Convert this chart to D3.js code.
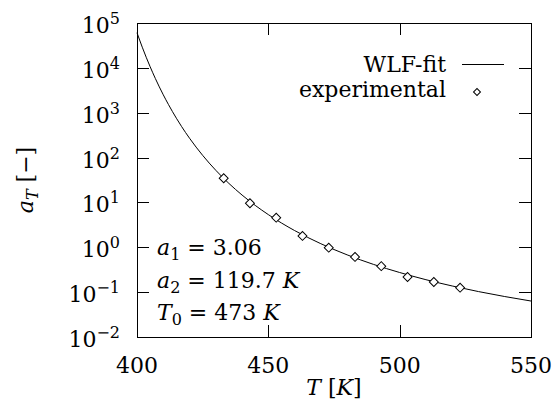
<!DOCTYPE html>
<html><head><meta charset="utf-8">
<script src="https://cdn.jsdelivr.net/npm/d3@7"></script>
<style>body{margin:0;background:#fff}</style>
</head><body><svg id="c" width="552" height="406" font-family="'DejaVu Serif', serif"></svg>
<script>
// WLF-fit curve
const curveT  = [400,402,405,407,410,412,415,417,420,425,430,435,440,445,450,455,460,470,480,490,500,510,520,530,540,550];
const curveAT = [60700,28900,10600,5770,2510,1514,753,490,270,112,52.0,26.5,14.6,8.6,5.35,3.48,2.36,1.20,0.678,0.416,0.274,0.1895,0.1372,0.1030,0.0798,0.0634];
// experimental points
const expT  = [433,443,453,463,473,483,493,503,513,523];
const expAT = [34.5,9.6,4.57,1.79,0.98,0.61,0.38,0.218,0.168,0.126];
const xTicks = [400,450,500,550];
const yExps = [-2,-1,0,1,2,3,4,5];
const params = [["a","1"," = 3.06",""],["a","2"," = 119.7 ","K"],["T","0"," = 473 ","K"]];

const L=137,R=531,T=23,B=337, FS=22;
const svg=d3.select("#c");
const x=d3.scaleLinear().domain([400,550]).range([L,R]);
const y=d3.scaleLog().domain([1e-2,1e5]).range([B,T]);

const line=d3.line().x(d=>x(d[0])).y(d=>y(d[1])).curve(d3.curveMonotoneX);
svg.append("path").datum(curveT.map((t,i)=>[t,curveAT[i]])).attr("d",line)
  .attr("fill","none").attr("stroke","#000").attr("stroke-width",1);

const tl=12;
const g=svg.append("g").attr("stroke","#000").attr("stroke-width",1);
xTicks.slice(1,-1).forEach(t=>{
  const xx=Math.round(x(t))+0.5;
  g.append("line").attr("x1",xx).attr("x2",xx).attr("y1",B).attr("y2",B-tl);
  g.append("line").attr("x1",xx).attr("x2",xx).attr("y1",T).attr("y2",T+tl);
});
yExps.slice(1,-1).forEach(e=>{
  const yy=Math.round(y(Math.pow(10,e)))+0.5;
  g.append("line").attr("x1",L).attr("x2",L+tl).attr("y1",yy).attr("y2",yy);
  g.append("line").attr("x1",R).attr("x2",R-tl).attr("y1",yy).attr("y2",yy);
});
svg.append("rect").attr("x",L+0.5).attr("y",T+0.5).attr("width",R-L).attr("height",B-T)
  .attr("fill","none").attr("stroke","#000").attr("stroke-width",1);

const diamond=d3.symbol().type(d3.symbolSquare).size(40);
svg.append("g").selectAll("path").data(expT.map((t,i)=>[t,expAT[i]])).join("path")
  .attr("d",diamond).attr("transform",d=>`translate(${x(d[0])},${y(d[1])}) rotate(45)`)
  .attr("fill","#fff").attr("stroke","#000").attr("stroke-width",1);

xTicks.forEach(t=>{
  svg.append("text").attr("x",x(t)).attr("y",373).attr("text-anchor","middle")
    .attr("font-size",FS).text(t);
});
yExps.forEach(e=>{
  const yy=y(Math.pow(10,e));
  const tx=svg.append("text").attr("x",120).attr("y",yy+10).attr("text-anchor","end").attr("font-size",FS);
  tx.append("tspan").text("10");
  tx.append("tspan").attr("dy",-9).attr("font-size",16).text(e<0?"\u2212"+(-e):String(e));
});

const xl=svg.append("text").attr("x",(L+R)/2).attr("y",395).attr("text-anchor","middle").attr("font-size",FS);
xl.append("tspan").attr("font-style","italic").text("T");
xl.append("tspan").text(" [");
xl.append("tspan").attr("font-style","italic").text("K");
xl.append("tspan").text("]");

const yl=svg.append("text").attr("transform",`translate(33,${(T+B)/2}) rotate(-90)`)
  .attr("text-anchor","middle").attr("font-size",FS);
yl.append("tspan").attr("font-style","italic").text("a");
yl.append("tspan").attr("font-style","italic").attr("font-size",16).attr("dy",5).text("T");
yl.append("tspan").attr("dy",-5).text(" [\u2212]");

svg.append("text").attr("x",446).attr("y",72).attr("text-anchor","end").attr("font-size",FS).text("WLF-fit");
svg.append("line").attr("x1",462).attr("x2",504).attr("y1",64.5).attr("y2",64.5).attr("stroke","#000");
svg.append("text").attr("x",446).attr("y",97).attr("text-anchor","end").attr("font-size",FS).text("experimental");
svg.append("path").attr("d",d3.symbol().type(d3.symbolSquare).size(24)())
  .attr("transform","translate(477,92) rotate(45)").attr("fill","#fff").attr("stroke","#000");

const baseY=[255,288,320];
params.forEach((p,i)=>{
  const t=svg.append("text").attr("x",157).attr("y",baseY[i]).attr("font-size",FS);
  t.append("tspan").attr("font-style","italic").text(p[0]);
  t.append("tspan").attr("font-size",16).attr("dy",5).text(p[1]);
  t.append("tspan").attr("dy",-5).text(p[2]);
  if(p[3]) t.append("tspan").attr("font-style","italic").text(p[3]);
});
</script></body></html>
